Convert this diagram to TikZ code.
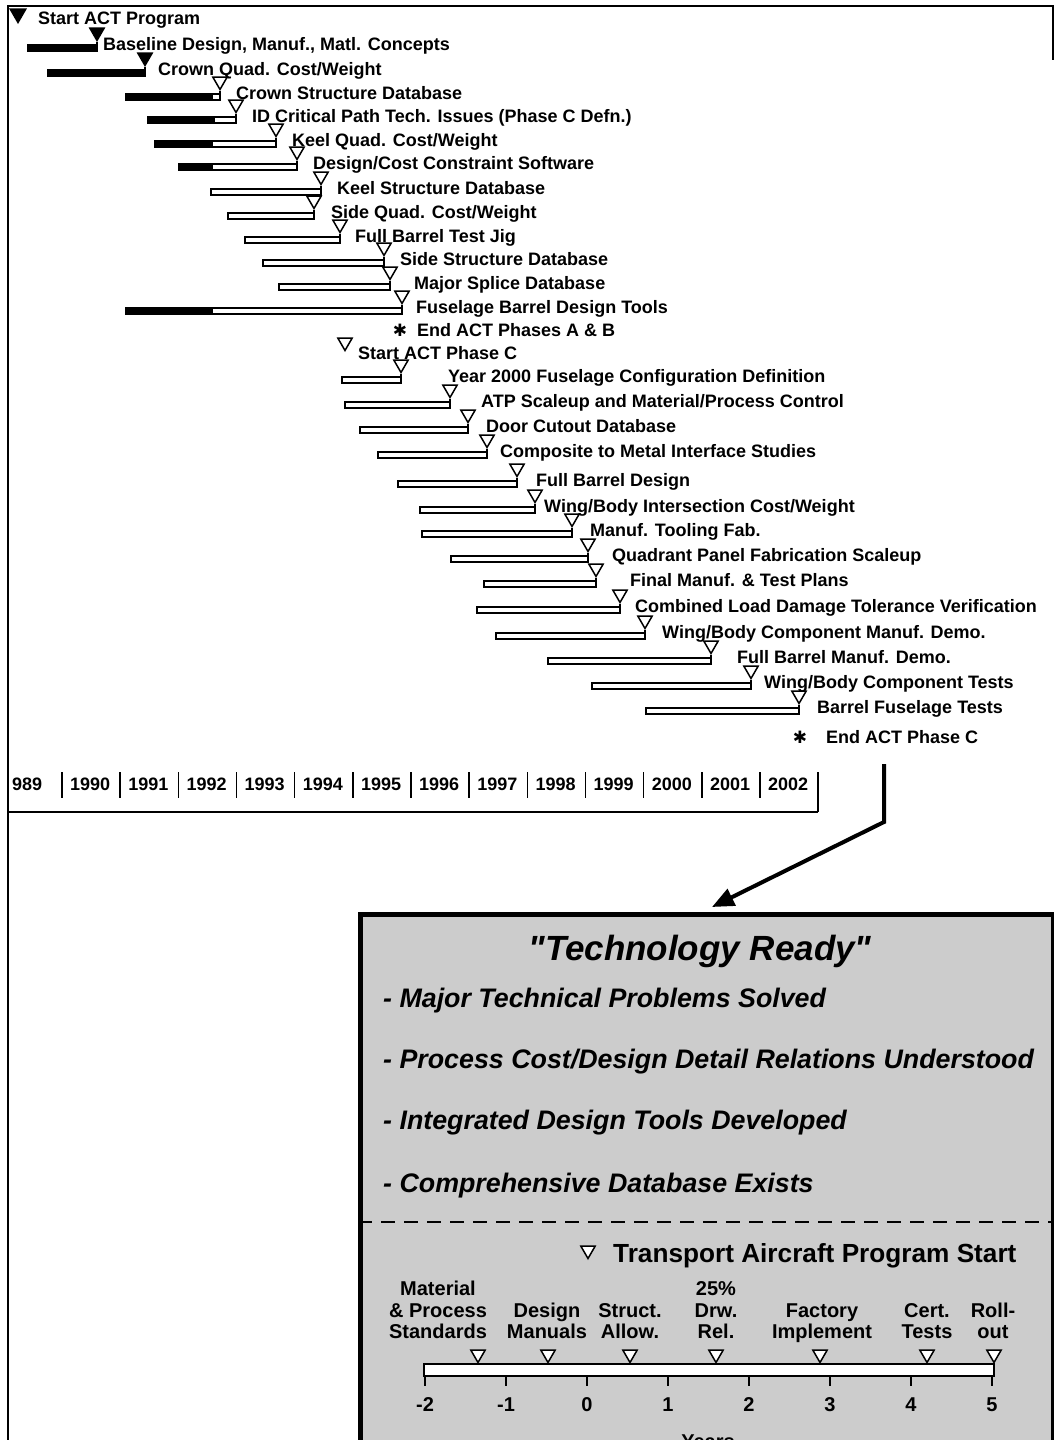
\documentclass[tikz,border=0pt]{standalone}
\usepackage{fontspec}
\setmainfont{Liberation Sans}
\newfontfamily\symfont{DejaVu Sans}
\usepackage{tikz}
\usetikzlibrary{positioning, calc, shapes.geometric, arrows.meta}

\begin{document}
\begin{tikzpicture}[x=1pt, y=-1pt,
    every node/.style = {inner sep=0pt, font=\bfseries\fontsize{18}{20}\selectfont},
    task/.style = {anchor=base west},
    frame/.style = {line width=1.6pt},
    barbox/.style = {draw, line width=1.6pt, fill=white},
    mstone/.style = {draw, regular polygon, regular polygon sides=3, shape border rotate=180, minimum size=16.5pt, line width=1.5pt, fill=white},
    mfull/.style = {mstone, fill=black},
    star/.style = {font=\symfont\fontsize{17}{17}\selectfont},
    ready/.style = {font=\bfseries\itshape\fontsize{26.8}{30}\selectfont, anchor=base west},
    small/.style = {font=\bfseries\fontsize{20}{21.5}\selectfont, align=center, anchor=south, text depth=0pt}]
    \useasboundingbox (0,0) rectangle (1054,1440);
    \draw[frame] (8,1440) -- (8,6) -- (1053,6) -- (1053,60);

    \node[mfull, minimum size=18pt, anchor=corner 1] (m0) at (18,24) {};
    \node[task] (t0) at (38,24) {Start ACT Program};

    \foreach \yy/\xa/\xb/\xc/\xl/\st/\txt [count=\i] in {
        44/28/97/97/103/mfull/{Baseline Design, Manuf., Matl. Concepts},
        69/48/145/145/158/mfull/{Crown Quad. Cost/Weight},
        93/126/213/220/236/mstone/{Crown Structure Database},
        116/148/215/236/252/mstone/{ID Critical Path Tech. Issues (Phase C Defn.)},
        140/155/213/276/292/mstone/{Keel Quad. Cost/Weight},
        163/179/213/297/313/mstone/{Design/Cost Constraint Software},
        188/211/211/321/337/mstone/{Keel Structure Database},
        212/228/228/314/331/mstone/{Side Quad. Cost/Weight},
        236/245/245/340/355/mstone/{Full Barrel Test Jig},
        259/263/263/384/400/mstone/{Side Structure Database},
        283/279/279/390/414/mstone/{Major Splice Database},
        307/126/213/402/416/mstone/{Fuselage Barrel Design Tools},
        376/342/342/401/448/mstone/{Year 2000 Fuselage Configuration Definition},
        401/345/345/450/481/mstone/{ATP Scaleup and Material/Process Control},
        426/360/360/468/486/mstone/{Door Cutout Database},
        451/378/378/487/500/mstone/{Composite to Metal Interface Studies},
        480/398/398/517/536/mstone/{Full Barrel Design},
        506/420/420/535/544/mstone/{Wing/Body Intersection Cost/Weight},
        530/422/422/572/590/mstone/{Manuf. Tooling Fab.},
        555/451/451/588/612/mstone/{Quadrant Panel Fabrication Scaleup},
        580/484/484/596/630/mstone/{Final Manuf. \& Test Plans},
        606/477/477/620/635/mstone/{Combined Load Damage Tolerance Verification},
        632/496/496/645/662/mstone/{Wing/Body Component Manuf. Demo.},
        657/548/548/711/737/mstone/{Full Barrel Manuf. Demo.},
        682/592/592/751/764/mstone/{Wing/Body Component Tests},
        707/646/646/799/817/mstone/{Barrel Fuselage Tests}}
    {
        \draw[barbox] (\xa,\yy+1) rectangle (\xc,\yy+7);
        \fill (\xa,\yy+1) rectangle (\xb,\yy+7);
        \node[\st, anchor=corner 1] (m\i) at (\xc,\yy-2) {};
        \draw[frame] (m\i.corner 1) -- (\xc,\yy+1);
        \node[task] (t\i) at (\xl,\yy+6) {\txt};
    }

    \node[star] (e1) at (400,330) {✱};
    \node[task] (e1t) at (417,336) {End ACT Phases A \& B};
    \node[mstone, anchor=corner 1] (s1) at (345,352) {};
    \node[task] (s1t) at (358,359) {Start ACT Phase C};
    \node[star] (e2) at (800,737) {✱};
    \node[task] (e2t) at (826,743) {End ACT Phase C};

    \draw[frame] (8,812) -- (818,812);
    \draw[frame] (818,772) -- (818,812);
    \node[task] (y0) at (12,790) {989};
    \foreach \yr [count=\k] in {1990,1991,...,2002} {
        \draw[frame] (3.8+58.17*\k,772) -- ++(0,26);
        \node[task] (y\k) at (11.8+58.17*\k,790) {\yr};
    }

    \node[draw, line width=5pt, fill=black!20, minimum width=693pt, minimum height=540pt, anchor=north west] (panel) at (358,912) {};
    \coordinate (from) at (884,764);
    \coordinate (bend) at (884,822);
    \coordinate (tip) at (712,907);
    \draw[line width=4pt, -{Triangle[length=22pt,width=18pt]}] (from) -- (bend) -- (tip);

    \node[font=\bfseries\itshape\fontsize{35}{40}\selectfont, anchor=base] (title) at (700,960) {\textquotedbl Technology Ready\textquotedbl};
    \node[ready] (r1) at (383,1007) {- Major Technical Problems Solved};
    \node[ready] (r2) at (383,1068) {- Process Cost/Design Detail Relations Understood};
    \node[ready] (r3) at (383,1129) {- Integrated Design Tools Developed};
    \node[ready] (r4) at (383,1192) {- Comprehensive Database Exists};

    \coordinate (cut) at (0,1222);
    \draw[line width=2.5pt, dash pattern=on 14pt off 9pt] (panel.west |- cut) -- (panel.east |- cut);

    \node[mstone, anchor=corner 1] (go) at (588,1260) {};
    \node[font=\bfseries\fontsize{26.2}{30}\selectfont, anchor=base west] (got) at (613,1262) {Transport Aircraft Program Start};

    \node[small] (l1) at (438,1339) {Material\\\& Process\\Standards};
    \node[small] (l2) at (547,1339) {Design\\Manuals};
    \node[small] (l3) at (630,1339) {Struct.\\Allow.};
    \node[small] (l4) at (716,1339) {25\%\\Drw.\\Rel.};
    \node[small] (l5) at (822,1339) {Factory\\Implement};
    \node[small] (l6) at (927,1339) {Cert.\\Tests};
    \node[small] (l7) at (993,1339) {Roll-\\out};

    \draw[barbox] (424,1364) rectangle (994,1376);
    \foreach \x [count=\j] in {478,548,630,716,820,927,994}
        \node[mstone, anchor=corner 1] (p\j) at (\x,1364) {};
    \foreach \v [count=\k from 0] in {-2,-1,0,1,2,3,4,5} {
        \draw[frame] (425+81*\k,1376) -- ++(0,10);
        \node[font=\bfseries\fontsize{20}{22}\selectfont, anchor=base] (n\k) at (425+81*\k,1411) {\v};
    }
    \node[font=\bfseries\fontsize{20}{22}\selectfont, anchor=base] (years) at (708,1448) {Years};
\end{tikzpicture}
\end{document}
